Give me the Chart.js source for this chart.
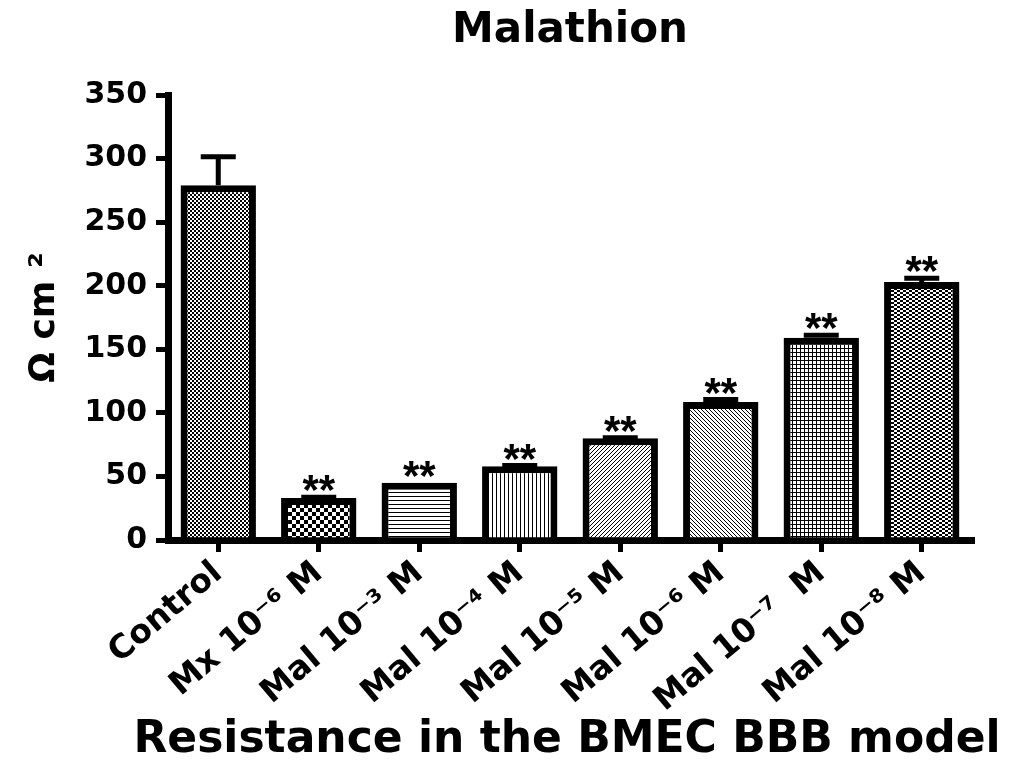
<!DOCTYPE html>
<html>
<head>
<meta charset="utf-8">
<script src="https://cdn.jsdelivr.net/npm/chart.js@4.4.1/dist/chart.umd.min.js"></script>
<style>
  html, body { margin: 0; padding: 0; background: #fff; }
</style>
</head>
<body>
<canvas id="bar-chart" width="1014" height="761"></canvas>
<script>
const labels = ['Control', 'Mx 10⁻⁶ M', 'Mal 10⁻³ M', 'Mal 10⁻⁴ M', 'Mal 10⁻⁵ M', 'Mal 10⁻⁶ M', 'Mal 10⁻⁷  M', 'Mal 10⁻⁸ M'];
const means = [279, 33, 45, 58, 80, 108.5, 159, 203];
const errors = [22.5, 0.6, 0, 0.5, 0.4, 2, 2, 2.8];
const marks = ['', '**', '**', '**', '**', '**', '**', '**'];
const yTicks = [0, 50, 100, 150, 200, 250, 300, 350];

// fill patterns, one per bar
function makePattern(kind) {
  const c = document.createElement('canvas');
  const g = c.getContext('2d');
  let w = 4, h = 4;
  if (kind === 'coarse') { w = 8; h = 8; }
  if (kind === 'mid') { w = 6; h = 4; }
  c.width = w; c.height = h;
  g.fillStyle = '#fff';
  g.fillRect(0, 0, w, h);
  g.fillStyle = '#000';
  if (kind === 'fine' || kind === 'coarse' || kind === 'mid') {
    g.fillRect(0, 0, w / 2, h / 2);
    g.fillRect(w / 2, h / 2, w / 2, h / 2);
  } else if (kind === 'hlines') {
    g.fillRect(0, 0, w, 1);
  } else if (kind === 'vlines') {
    g.fillRect(0, 0, 1, h);
  } else if (kind === 'up') {
    for (let i = 0; i < 4; i++) g.fillRect(3 - i, i, 1, 1);
  } else if (kind === 'down') {
    for (let i = 0; i < 4; i++) g.fillRect(i, i, 1, 1);
  } else if (kind === 'grid') {
    g.fillRect(0, 0, w, 1);
    g.fillRect(0, 0, 1, h);
  }
  return g.createPattern(c, 'repeat');
}
const fills = ['fine', 'coarse', 'hlines', 'vlines', 'up', 'down', 'grid', 'mid'].map(makePattern);

const errorBars = {
  id: 'errorBars',
  afterDatasetsDraw(chart) {
    const ctx = chart.ctx;
    const y = chart.scales.y;
    const meta = chart.getDatasetMeta(0);
    ctx.save();
    ctx.strokeStyle = '#000';
    ctx.fillStyle = '#000';
    ctx.lineWidth = 5;
    meta.data.forEach((bar, i) => {
      const top = y.getPixelForValue(means[i] + errors[i]);
      if (errors[i] > 0) {
        ctx.beginPath();
        ctx.moveTo(bar.x, bar.y);
        ctx.lineTo(bar.x, top);
        ctx.moveTo(bar.x - 17.5, top);
        ctx.lineTo(bar.x + 17.5, top);
        ctx.stroke();
      }
      if (marks[i]) {
        ctx.font = 'bold 42px "Liberation Sans"';
        ctx.textAlign = 'center';
        ctx.textBaseline = 'alphabetic';
        ctx.fillText(marks[i], bar.x, top + 7);
      }
    });
    ctx.restore();
  }
};

// chart title and x-axis title, centred on the plot area
const titles = {
  id: 'titles',
  afterDraw(chart) {
    const ctx = chart.ctx;
    const a = chart.chartArea;
    const cx = (a.left + a.right) / 2;
    ctx.save();
    ctx.fillStyle = '#000';
    ctx.textAlign = 'center';
    ctx.textBaseline = 'middle';
    ctx.font = 'bold 42px "DejaVu Sans"';
    ctx.fillText('Malathion', cx, 31);
    ctx.font = 'bold 44px "DejaVu Sans"';
    ctx.fillText('Resistance in the BMEC BBB model', cx - 3, 741);
    ctx.restore();
  }
};

const tickFont = { family: 'DejaVu Sans', weight: 'bold', size: 30 };

const chart = new Chart(document.getElementById('bar-chart'), {
  type: 'bar',
  data: {
    labels: labels,
    datasets: [{
      data: means,
      backgroundColor: fills,
      borderColor: '#000',
      borderWidth: 7,
      borderSkipped: 'start',
      barPercentage: 0.75,
      categoryPercentage: 1
    }]
  },
  options: {
    responsive: false,
    animation: false,
    layout: { padding: { top: 95, right: 42, bottom: 0, left: 0 } },
    plugins: {
      legend: { display: false },
      tooltip: { enabled: false },
      title: { display: false }
    },
    scales: {
      x: {
        grid: { drawOnChartArea: false, offset: false, color: '#000', lineWidth: 5, tickLength: 12 },
        border: { display: true, color: '#000', width: 7 },
        ticks: {
          color: '#000',
          font: { family: 'DejaVu Sans', weight: 'bold', size: 33 },
          minRotation: 40, maxRotation: 40, autoSkip: false, padding: 2
        },
        afterFit(s) { s.height = 221; }
      },
      y: {
        min: 0,
        max: 350,
        afterBuildTicks(s) { s.ticks = yTicks.map(v => ({ value: v })); },
        grid: { drawOnChartArea: false, color: '#000', lineWidth: 5, tickLength: 12 },
        border: { display: true, color: '#000', width: 7 },
        ticks: { color: '#000', font: tickFont, padding: 9 },
        title: {
          display: true,
          text: 'Ω cm ²',
          color: '#000',
          font: { family: 'DejaVu Sans', weight: 'bold', size: 36, lineHeight: 1.2 },
          padding: { top: 23, bottom: 0 }
        },
        afterFit(s) { s.width = 168; }
      }
    }
  },
  plugins: [errorBars, titles]
});
</script>
</body>
</html>
